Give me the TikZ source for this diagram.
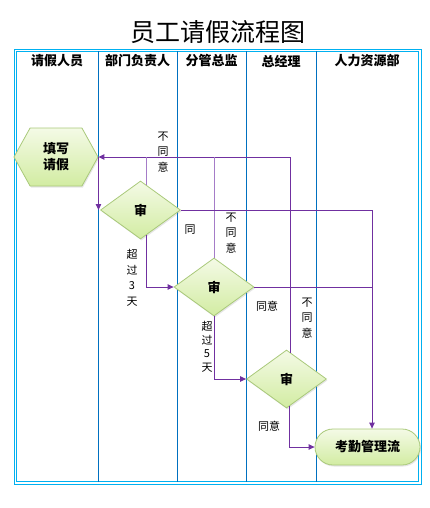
\documentclass[tikz,border=0pt]{standalone}
\usepackage{fontspec}
\setmainfont{Noto Sans CJK SC}
\usetikzlibrary{arrows.meta,calc,positioning,shapes.geometric,shapes.symbols,shadows}

\definecolor{lanecyan}{HTML}{00B0F0}
\definecolor{laneblue}{HTML}{0070C0}
\definecolor{flowpurple}{HTML}{7030A0}
\definecolor{fadepurple}{HTML}{A57CC8}
\definecolor{boxtop}{HTML}{F4FAE6}
\definecolor{boxbottom}{HTML}{D2ECA2}
\definecolor{boxline}{HTML}{A9C97A}

\tikzset{
    head/.style={font=\fontsize{13}{15}\selectfont\bfseries, inner sep=0pt},
    box/.style={draw=boxline, line width=0.8pt, top color=boxtop, bottom color=boxbottom,
        font=\fontsize{13}{16}\selectfont\bfseries, align=center, inner sep=1pt,
        drop shadow={opacity=0.2, shadow xshift=1pt, shadow yshift=-1.5pt}},
    hexa/.style={signal, signal to=east and west, signal pointer angle=122,
        minimum width=84pt, minimum height=58pt},
    check/.style={diamond, minimum width=80pt, minimum height=58pt},
    stadium/.style={rectangle, rounded corners=18pt, minimum width=105pt, minimum height=36pt},
    flow/.style={draw=flowpurple, line width=1pt, -{Triangle[length=6pt,width=5.5pt]}},
    flowplain/.style={draw=flowpurple, line width=1pt},
    flowlight/.style={draw=fadepurple, line width=1pt},
    note/.style={font=\fontsize{11}{15.5}\selectfont, align=center, inner sep=0pt}
}

\begin{document}
\begin{tikzpicture}[x=1pt, y=-1pt]
\useasboundingbox (0,0) rectangle (430,508);

\node[font=\fontsize{25}{28}\selectfont] (title) at (218,32) {员工请假流程图};

% swimlanes
\draw[lanecyan, line width=0.8pt] (14,49) rectangle (421,484);
\draw[lanecyan, line width=0.8pt] (16.5,51.5) rectangle (418.5,481.5);
\foreach \lx in {98,177,246,316}
    \draw[laneblue, line width=0.9pt] (\lx,51.5) -- (\lx,481.5);

\node[head] (h1) at (57,61) {请假人员};
\node[head] (h2) at (137.5,61) {部门负责人};
\node[head] (h3) at (211.5,61) {分管总监};
\node[head] (h4) at (281,61) {总经理};
\node[head] (h5) at (367,61) {人力资源部};

% steps
\node[box, hexa] (fill) at (56,157) {填写\\请假};
\node[box, check] (shen1) at (140.5,210) {审};
\node[box, check] (shen2) at (214,287) {审};
\node[box, check] (shen3) at (286.5,379) {审};
\node[box, stadium] (kaoqin) at (367.5,447) {考勤管理流};
\coordinate (hrin) at ([xshift=4.5pt]kaoqin.north);

% back to the form
\draw[flow] (shen3.81) |- (fill.east);
\draw[flowlight] (shen2.north) -- (shen2.north |- fill.east);
\draw[flowlight] (shen1.77) -- (shen1.77 |- fill.east);
\draw[flow] (fill.east) -- (fill.east |- shen1.west);

% approvals
\draw[flow] (shen1.east) -| (hrin);
\draw[flowplain] (shen2.east) -- (shen2.east -| hrin);
\draw[flow] (shen1.-77) |- (shen2.west);
\draw[flow] (shen2.south) |- (shen3.west);
\draw[flow] (shen3.-84) |- (kaoqin.west);

\node[note] (n1) at (163,152) {不\\同\\意};
\node[note] (n2) at (231,233) {不\\同\\意};
\node[note] (n3) at (307,318) {不\\同\\意};
\node[note] (t1) at (190,230) {同};
\node[note] (c3) at (132,278) {超\\过\\3\\天};
\node[note, font=\fontsize{11}{13.5}\selectfont] (c5) at (207,347) {超\\过\\5\\天};
\node[note] (a2) at (267,306) {同意};
\node[note] (a3) at (269,426) {同意};
\end{tikzpicture}
\end{document}
